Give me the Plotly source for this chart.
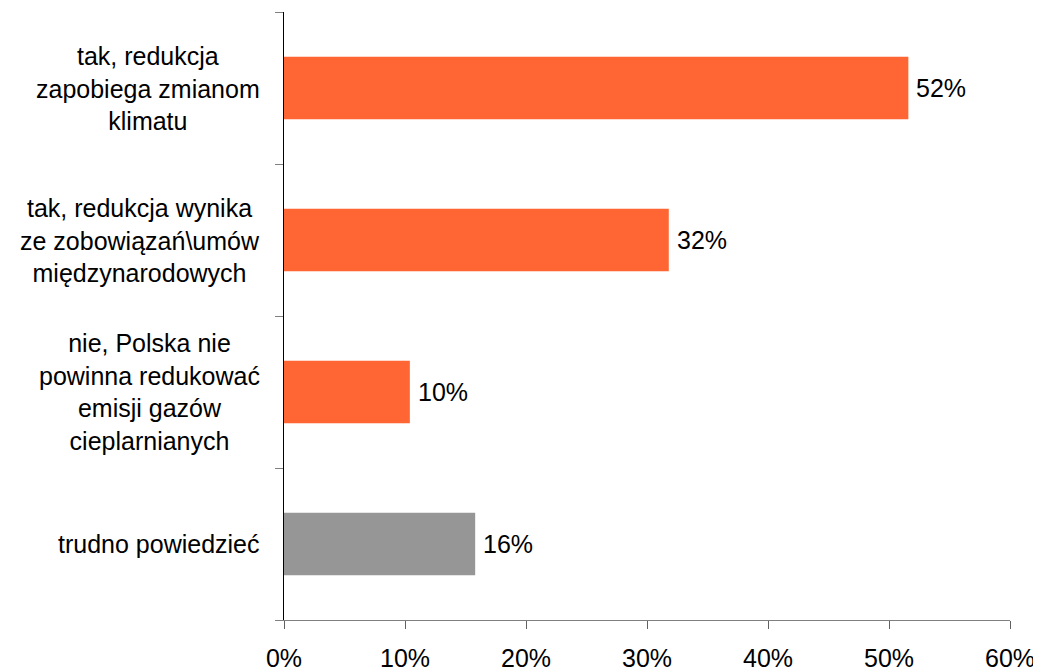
import plotly.graph_objects as go

categories = [
    "tak, redukcja<br>zapobiega zmianom<br>klimatu",
    "tak, redukcja wynika<br>ze zobowiązań\\umów<br>międzynarodowych",
    "nie, Polska nie<br>powinna redukować<br>emisji gazów<br>cieplarnianych",
    "trudno powiedzieć",
]
values = [51.6, 31.8, 10.4, 15.8]
colors = ["#FF6633", "#FF6633", "#FF6633", "#969696"]
x_ticks = [0, 10, 20, 30, 40, 50, 60]
x_tick_labels = [f"{v}%" for v in x_ticks]

FONT = "Liberation Sans, Arial, sans-serif"
FS = 25

fig = go.Figure()
fig.add_trace(go.Bar(
    y=list(range(len(categories))),
    x=values,
    orientation="h",
    marker=dict(color=colors, line=dict(width=0)),
    hoverinfo="skip",
))

for i, (c, v) in enumerate(zip(categories, values)):
    fig.add_annotation(
        x=0, xref="paper", y=i, yref="y",
        text=c, showarrow=False, xanchor="right", yanchor="middle",
        align="center", xshift=-22,
        font=dict(family=FONT, size=FS, color="#000000"),
    )
    fig.add_annotation(
        x=v, xref="x", y=i, yref="y",
        text=f"{v:.0f}%", showarrow=False, xanchor="left", yanchor="middle",
        xshift=6,
        font=dict(family=FONT, size=FS, color="#000000"),
    )

fig.update_layout(
    width=1041, height=672,
    margin=dict(l=276, r=39, t=4, b=60),
    paper_bgcolor="white", plot_bgcolor="white",
    bargap=0.59,
    showlegend=False,
    font=dict(family=FONT, size=FS, color="#000000"),
)
fig.update_xaxes(
    range=[0, 60], tickvals=x_ticks, ticktext=x_tick_labels,
    showgrid=False, zeroline=False,
    showline=True, linecolor="#808080", linewidth=1,
    ticks="outside", ticklen=8, tickcolor="#606060",
    ticklabelstandoff=8,
    tickfont=dict(family=FONT, size=FS, color="#000000"),
    fixedrange=True,
)
fig.update_yaxes(
    type="linear", range=[3.5, -0.5],
    tickvals=[-0.5, 0.5, 1.5, 2.5, 3.5], showticklabels=False,
    showgrid=False, zeroline=False,
    showline=True, linecolor="#000000", linewidth=1,
    ticks="outside", ticklen=8, tickcolor="#808080",
    fixedrange=True,
)

fig.write_html("out.html")
